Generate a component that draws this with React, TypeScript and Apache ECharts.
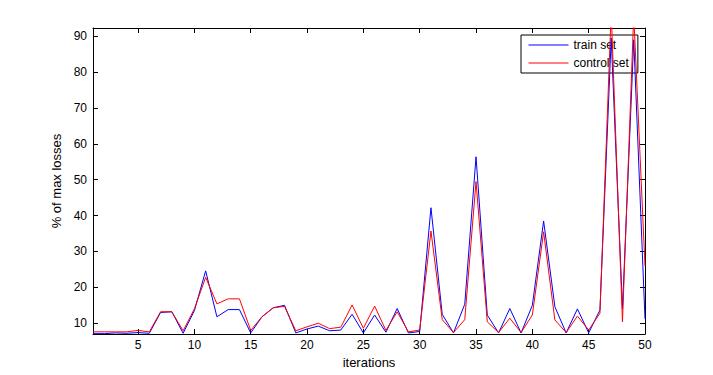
import React, { useEffect, useRef } from "react";
import * as echarts from "echarts";

const iterations = [
  1, 2, 3, 4, 5, 6, 7, 8, 9, 10, 11, 12, 13, 14, 15, 16, 17, 18, 19, 20, 21, 22, 23, 24, 25,
  26, 27, 28, 29, 30, 31, 32, 33, 34, 35, 36, 37, 38, 39, 40, 41, 42, 43, 44, 45, 46, 47, 48, 49, 50,
];

const trainSet = [
  7.1, 7.1, 7.3, 7.2, 7.4, 7.2, 13.0, 13.2, 7.2, 13.5,
  24.6, 11.8, 13.8, 13.8, 7.3, 11.8, 14.3, 15.0, 7.3, 8.4,
  9.2, 7.9, 8.1, 12.5, 7.3, 12.3, 7.5, 14.1, 7.3, 7.7,
  42.2, 12.5, 7.3, 15.3, 56.4, 12.3, 7.3, 14.1, 7.3, 15.0,
  38.5, 14.6, 7.3, 14.0, 7.3, 13.7, 89.5, 14.1, 89.0, 11.2,
];

const controlSet = [
  7.6, 7.6, 7.6, 7.6, 8.0, 7.6, 13.2, 13.2, 7.9, 14.0,
  22.8, 15.4, 16.8, 16.8, 8.0, 11.8, 14.3, 14.7, 7.9, 9.0,
  10.0, 8.5, 8.9, 15.1, 8.6, 14.8, 8.0, 13.2, 7.6, 8.1,
  35.7, 11.0, 7.4, 11.0, 49.5, 10.4, 7.4, 11.4, 7.4, 12.3,
  35.5, 10.9, 7.4, 12.0, 8.1, 12.8, 97.0, 10.4, 96.0, 26.0,
];

const xTicks = [5, 10, 15, 20, 25, 30, 35, 40, 45, 50];
const yTicks = [10, 20, 30, 40, 50, 60, 70, 80, 90];

const FONT = "Liberation Sans, Arial, Helvetica, sans-serif";

export default function App() {
  const ref = useRef<HTMLDivElement>(null);
  useEffect(() => {
    if (!ref.current) return;
    const chart = echarts.init(ref.current, undefined, { renderer: "svg" });
    const xBase = {
      type: "value",
      min: 1,
      max: 50,
      splitLine: { show: false },
      axisLine: { show: true, lineStyle: { color: "#000", width: 1 } },
      axisTick: { show: true, inside: true, length: 5, customValues: xTicks, lineStyle: { color: "#000" } },
    };
    const yBase = {
      type: "value",
      min: 7.0,
      max: 92.3,
      splitLine: { show: false },
      axisLine: { show: true, lineStyle: { color: "#000", width: 1 } },
      axisTick: { show: true, inside: true, length: 5, customValues: yTicks, lineStyle: { color: "#000" } },
    };
    chart.setOption({
      animation: false,
      backgroundColor: "#fff",
      grid: { left: 93, right: 68, top: 28, bottom: 41, containLabel: false },
      legend: {
        z: 1,
        left: 521,
        top: 35,
        orient: "vertical",
        backgroundColor: "#fff",
        borderColor: "#000",
        borderWidth: 1,
        borderRadius: 0,
        padding: [4, 9, 4, 7],
        itemGap: 6,
        itemWidth: 40,
        itemHeight: 14,
        itemStyle: { opacity: 0 },
        lineStyle: { width: 1 },
        textStyle: { color: "#000", fontSize: 12, fontFamily: FONT },
        data: ["train set", "control set"],
      },
      xAxis: [
        {
          ...xBase,
          position: "bottom",
          name: "iterations",
          nameLocation: "middle",
          nameGap: 22,
          nameTextStyle: { color: "#000", fontSize: 13, fontFamily: FONT },
          axisLabel: { show: true, customValues: xTicks, color: "#000", fontSize: 12, fontFamily: FONT, margin: 5 },
        },
        {
          ...xBase,
          position: "top",
          axisLabel: { show: false },
        },
      ],
      yAxis: [
        {
          ...yBase,
          position: "left",
          name: "% of max losses",
          nameLocation: "middle",
          nameGap: 25,
          nameRotate: 90,
          nameTextStyle: { color: "#000", fontSize: 13, fontFamily: FONT },
          axisLabel: { show: true, customValues: yTicks, color: "#000", fontSize: 12, fontFamily: FONT, margin: 6 },
        },
        {
          ...yBase,
          position: "right",
          axisLabel: { show: false },
        },
      ],
      series: [
        {
          name: "train set",
          type: "line",
          z: 3,
          xAxisIndex: 0,
          yAxisIndex: 0,
          symbol: "none",
          clip: true,
          lineStyle: { color: "#0000ff", width: 1 },
          itemStyle: { color: "#0000ff" },
          data: iterations.map((x, i) => [x, trainSet[i]]),
        },
        {
          name: "control set",
          type: "line",
          z: 3,
          xAxisIndex: 0,
          yAxisIndex: 0,
          symbol: "none",
          clip: true,
          lineStyle: { color: "#ff0000", width: 1 },
          itemStyle: { color: "#ff0000" },
          data: iterations.map((x, i) => [x, controlSet[i]]),
        },
      ],
    });
    return () => chart.dispose();
  }, []);
  return (
    <div
      ref={ref}
      style={{ position: "fixed", left: 0, top: 0, width: 713, height: 375, background: "#fff" }}
    />
  );
}
